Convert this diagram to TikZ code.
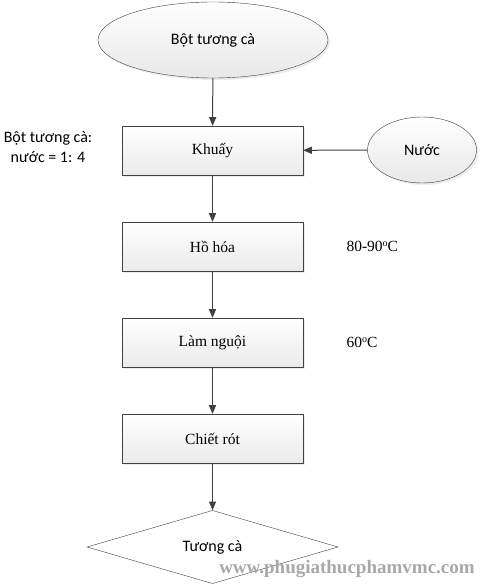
\documentclass[tikz,border=0pt]{standalone}
\usepackage{fontspec}
\setmainfont{Liberation Serif}
\newfontfamily\calib{Carlito}
\usepackage{tikz, xcolor}
\usetikzlibrary{
calc, positioning,
arrows, shapes,
shapes.geometric,
shadows}

\definecolor{linegray}{HTML}{404040}
\definecolor{markgray}{HTML}{A8A8A8}

\tikzset{
stepbox/.style={rectangle, draw=linegray, text centered,
  minimum width=181pt, minimum height=49pt, inner sep=0pt,
  top color=white, bottom color=gray!16,
  drop shadow={shadow xshift=2pt, shadow yshift=-2pt, fill=gray!25, opacity=.6},
  font=\fontsize{15.5}{18}\selectfont},
source/.style={ellipse, draw=linegray, text centered, inner sep=0pt,
  top color=white, bottom color=gray!18,
  drop shadow={shadow xshift=2pt, shadow yshift=-2pt, fill=gray!25, opacity=.6},
  font=\calib\fontsize{16}{19}\selectfont},
flowline/.style={->, >=triangle 45, line width=1pt, color=linegray}
}

\begin{document}
\begin{tikzpicture}[x=1pt, y=-1pt]

\useasboundingbox (0,0) rectangle (479,585);

\node[source, minimum width=230pt, minimum height=76pt]
(powder) at (213, 40) 
{Bột tương cà};

\node[stepbox]
(stir) at (212.5, 150.5) 
{Khuấy};

\node[source, minimum width=109pt, minimum height=66pt]
(water) at (422, 150) 
{Nước};

\node[stepbox]
(gelat) at (212.5, 246.5) 
{Hồ hóa};

\node[stepbox]
(cool) at (212.5, 342.5) 
{Làm nguội};

\node[stepbox]
(fill) at (212.5, 438.5) 
{Chiết rót};

\node[diamond, draw=linegray, inner sep=0pt,
minimum width=251pt, minimum height=72pt,
font=\calib\fontsize{16}{19}\selectfont]
(sauce) at (212.5, 547) 
{Tương cà};

\node[align=center, font=\calib\fontsize{16}{20}\selectfont]
(ratio) at (48, 147) 
{Bột tương cà:\\nước = 1: 4};

\node[anchor=west, font=\fontsize{15.5}{18}\selectfont]
(temp-gelat) at (343, 246) 
{80-90\raisebox{0.6ex}{\fontsize{10}{10}\selectfont o}C};

\node[anchor=west, font=\fontsize{15.5}{18}\selectfont]
(temp-cool) at (343, 342) 
{60\raisebox{0.6ex}{\fontsize{10}{10}\selectfont o}C};

\draw[flowline] (powder) -- (stir);
\draw[flowline] (water) -- (stir);
\draw[flowline] (stir) -- (gelat);
\draw[flowline] (gelat) -- (cool);
\draw[flowline] (cool) -- (fill);
\draw[flowline] (fill) -- (sauce);

\node[font=\bfseries\fontsize{19}{22}\selectfont, color=markgray]
(mark) at (347, 569) 
{www.phugiathucphamvmc.com};

\end{tikzpicture}
\end{document}
